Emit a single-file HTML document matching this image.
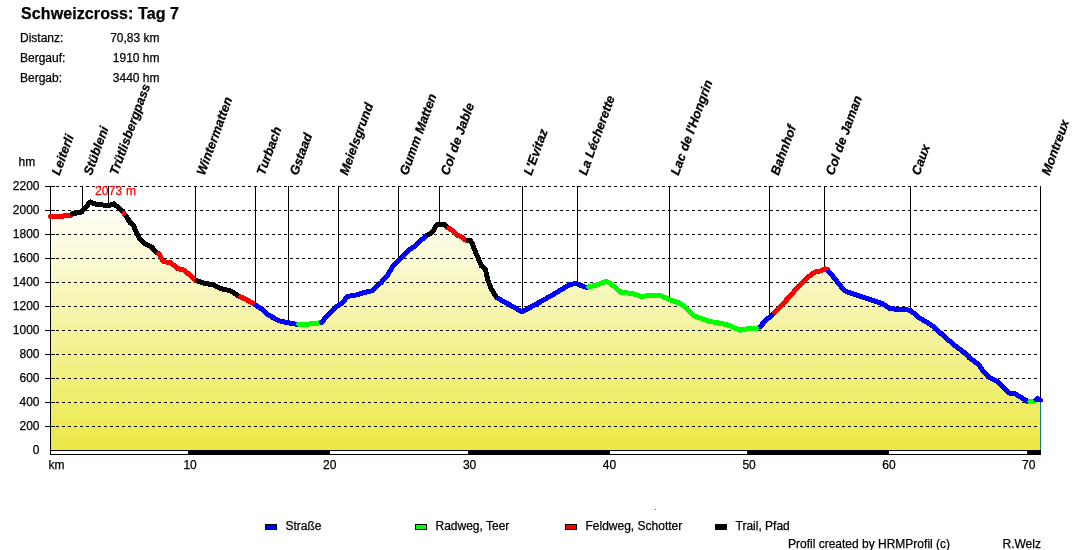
<!DOCTYPE html>
<html lang="de"><head><meta charset="utf-8"><title>Schweizcross: Tag 7</title>
<style>
html,body{margin:0;padding:0;background:#fff;}
body{width:1090px;height:550px;overflow:hidden;position:relative;font-family:"Liberation Sans",Arial,sans-serif;}
svg{position:absolute;left:0;top:0;display:block;}
text{font-family:"Liberation Sans",Arial,sans-serif;font-size:12px;fill:#000;stroke:#000;stroke-width:0.25px;}
.t{font-size:16px;font-weight:bold;}
.l{font-weight:bold;font-style:italic;font-size:12.85px;}
.e{text-anchor:end;}
.m{text-anchor:middle;}
</style></head><body>
<svg width="1090" height="550" viewBox="0 0 1090 550">
<defs><linearGradient id="g" gradientUnits="userSpaceOnUse" x1="0" y1="201" x2="0" y2="450">
<stop offset="0" stop-color="#ffffff"/><stop offset="1" stop-color="#ebe845"/></linearGradient></defs>
<text class="t" x="21" y="19" textLength="158">Schweizcross: Tag 7</text>
<text x="20" y="42">Distanz:</text><text class="e" x="159.5" y="42">70,83 km</text>
<text x="20" y="62">Bergauf:</text><text class="e" x="159.5" y="62">1910 hm</text>
<text x="20" y="82">Bergab:</text><text class="e" x="159.5" y="82">3440 hm</text>
<polygon shape-rendering="crispEdges" fill="url(#g)" points="50.5,450 50.5,216.6 60,216.4 71,215.2 72.35,213.94 72.5,213.8 81.7,212 85.4,207.4 90.4,201.9 96.4,204.6 104.6,205.1 108.8,206 113.8,203.7 123,211.5 124.08,213.39 124.2,213.6 125.4,215.2 126.57,216.46 126.7,216.6 129.9,222.5 133.1,224.8 136.4,232.4 140.5,239.9 146,244.3 151,246.5 157,252.6 158.81,254.02 159.8,254.8 163.1,261.4 171.3,263 177.4,268.5 184.5,270.2 195,280.1 197.17,280.86 205,283.6 212.5,284.5 221.5,288.8 230.4,290.8 238.6,295.9 240.68,296.89 246.8,299.8 254.5,304.2 256.41,305.49 263.4,310.2 267.8,314.6 278.8,320.7 288.7,322.9 296.4,324.2 298.7,324.17 309.7,324 319.6,322.9 321.31,322.36 321.5,322.3 331.9,310.7 338.5,305.2 343.5,301.9 347.3,296.4 355,295.3 363.9,292.6 371.6,290.9 381.5,282.1 388.1,274.4 393.3,265.5 398.3,261 407.9,250.6 415,246.2 420.5,240.7 426.5,235.6 428.51,234.47 430.6,233.3 433.8,229.7 437,224.6 443.9,224.2 447.1,226.9 448.97,228.24 453.5,231.5 458.1,235.6 462.7,237.5 465.5,240.2 467.8,240.2 470,240.2 472.3,243.4 474.6,249.9 477.2,256 481.5,266 485.4,269.3 487.6,279.2 490.9,288 496.4,297.4 498.41,298.53 522.2,311.9 553.1,294.6 569.6,284.7 575.6,283.5 586.6,287.6 588.82,287.0 597,284.8 605.8,281.5 610.2,283.2 621.2,292.5 628.9,293.1 634.5,294.2 641.1,296.4 649.9,295.6 660.9,295.6 669.7,299.7 680.7,303.5 687.3,309 693.8,315.8 709.2,321.3 726.8,324.6 740,330.1 748.9,328.5 758.8,327.9 760.78,326.46 761,326.3 764.3,321.3 769.8,316.9 773.1,313.6 774.73,311.97 784.1,302.6 790.7,295.5 795,290.2 806,278.7 814.8,272.1 820.3,271 824.7,268.8 827.2,269.6 828.67,271.37 835.7,279.8 844.5,290.8 856.7,295.2 872.1,300.1 883.1,304 889.7,308.4 900,309.7 909.9,310.1 919.8,318.2 927.5,322.6 934.1,327 944,336.3 955,345.7 966.1,353.9 969.2,357.7 979.1,364.9 982.4,370.4 989,377 997.8,381.9 1010,393.5 1014.4,393.5 1026.5,400.6 1027.6,401.4 1029.9,401.4 1034.2,401.4 1035.9,399.85 1037.5,398.4 1040.5,400.1 1040.5,450"/>
<g shape-rendering="crispEdges">
<rect x="1040" y="400" width="1" height="50" fill="#008080"/>
<path d="M50 186.5H1040" stroke="#000" stroke-width="1" stroke-dasharray="3 3" fill="none"/><rect x="45" y="186" width="10" height="1"/>
<path d="M50 210.5H1040" stroke="#000" stroke-width="1" stroke-dasharray="3 3" fill="none"/><rect x="45" y="210" width="10" height="1"/>
<path d="M50 234.5H1040" stroke="#000" stroke-width="1" stroke-dasharray="3 3" fill="none"/><rect x="45" y="234" width="10" height="1"/>
<path d="M50 258.5H1040" stroke="#000" stroke-width="1" stroke-dasharray="3 3" fill="none"/><rect x="45" y="258" width="10" height="1"/>
<path d="M50 282.5H1040" stroke="#000" stroke-width="1" stroke-dasharray="3 3" fill="none"/><rect x="45" y="282" width="10" height="1"/>
<path d="M50 306.5H1040" stroke="#000" stroke-width="1" stroke-dasharray="3 3" fill="none"/><rect x="45" y="306" width="10" height="1"/>
<path d="M50 330.5H1040" stroke="#000" stroke-width="1" stroke-dasharray="3 3" fill="none"/><rect x="45" y="330" width="10" height="1"/>
<path d="M50 354.5H1040" stroke="#000" stroke-width="1" stroke-dasharray="3 3" fill="none"/><rect x="45" y="354" width="10" height="1"/>
<path d="M50 378.5H1040" stroke="#000" stroke-width="1" stroke-dasharray="3 3" fill="none"/><rect x="45" y="378" width="10" height="1"/>
<path d="M50 402.5H1040" stroke="#000" stroke-width="1" stroke-dasharray="3 3" fill="none"/><rect x="45" y="402" width="10" height="1"/>
<path d="M50 426.5H1040" stroke="#000" stroke-width="1" stroke-dasharray="3 3" fill="none"/><rect x="45" y="426" width="10" height="1"/>
<rect x="50" y="186" width="1" height="265"/>
<rect x="82" y="186" width="1" height="25.0"/><rect x="108" y="186" width="1" height="19.9"/><rect x="195" y="186" width="1" height="94.3"/><rect x="255" y="186" width="1" height="118.9"/><rect x="288" y="186" width="1" height="136.9"/><rect x="338" y="186" width="1" height="119.2"/><rect x="398" y="186" width="1" height="74.8"/><rect x="439" y="186" width="1" height="38.5"/><rect x="522" y="186" width="1" height="125.7"/><rect x="577" y="186" width="1" height="98.2"/><rect x="669" y="186" width="1" height="113.6"/><rect x="769" y="186" width="1" height="131.1"/><rect x="824" y="186" width="1" height="82.9"/><rect x="910" y="186" width="1" height="124.6"/><rect x="1040" y="186" width="1" height="214.1"/>
<rect x="50" y="450" width="991" height="5" fill="#000"/><rect x="51" y="451" width="137" height="3" fill="#fff"/><rect x="330" y="451" width="138" height="3" fill="#fff"/><rect x="610" y="451" width="137" height="3" fill="#fff"/><rect x="889" y="451" width="138" height="3" fill="#fff"/>
</g>
<g shape-rendering="crispEdges" fill="none" stroke-width="5" stroke-linecap="round" stroke-linejoin="round">
<path d="M50.5 216.6 L60 216.4 L71 215.2 L72.35 213.94" stroke="#f00"/>
<path d="M72.35 213.94 L72.5 213.8 L81.7 212 L85.4 207.4 L90.4 201.9 L96.4 204.6 L104.6 205.1 L108.8 206 L113.8 203.7 L123 211.5 L124.08 213.39" stroke="#000"/>
<path d="M124.08 213.39 L124.2 213.6 L125.4 215.2 L126.57 216.46" stroke="#f00"/>
<path d="M126.57 216.46 L126.7 216.6 L129.9 222.5 L133.1 224.8 L136.4 232.4 L140.5 239.9 L146 244.3 L151 246.5 L157 252.6 L158.81 254.02" stroke="#000"/>
<path d="M158.81 254.02 L159.8 254.8 L163.1 261.4 L171.3 263 L177.4 268.5 L184.5 270.2 L195 280.1 L197.17 280.86" stroke="#f00"/>
<path d="M197.17 280.86 L205 283.6 L212.5 284.5 L221.5 288.8 L230.4 290.8 L238.6 295.9 L240.68 296.89" stroke="#000"/>
<path d="M240.68 296.89 L246.8 299.8 L254.5 304.2 L256.41 305.49" stroke="#f00"/>
<path d="M256.41 305.49 L263.4 310.2 L267.8 314.6 L278.8 320.7 L288.7 322.9 L296.4 324.2 L298.7 324.17" stroke="#00f"/>
<path d="M298.7 324.17 L309.7 324 L319.6 322.9 L321.31 322.36" stroke="#0f0"/>
<path d="M321.31 322.36 L321.5 322.3 L331.9 310.7 L338.5 305.2 L343.5 301.9 L347.3 296.4 L355 295.3 L363.9 292.6 L371.6 290.9 L381.5 282.1 L388.1 274.4 L393.3 265.5 L398.3 261 L407.9 250.6 L415 246.2 L420.5 240.7 L426.5 235.6 L428.51 234.47" stroke="#00f"/>
<path d="M428.51 234.47 L430.6 233.3 L433.8 229.7 L437 224.6 L443.9 224.2 L447.1 226.9 L448.97 228.24" stroke="#000"/>
<path d="M448.97 228.24 L453.5 231.5 L458.1 235.6 L462.7 237.5 L465.5 240.2 L467.8 240.2" stroke="#f00"/>
<path d="M467.8 240.2 L470 240.2 L472.3 243.4 L474.6 249.9 L477.2 256 L481.5 266 L485.4 269.3 L487.6 279.2 L490.9 288 L496.4 297.4 L498.41 298.53" stroke="#000"/>
<path d="M498.41 298.53 L522.2 311.9 L553.1 294.6 L569.6 284.7 L575.6 283.5 L586.6 287.6 L588.82 287.0" stroke="#00f"/>
<path d="M588.82 287.0 L597 284.8 L605.8 281.5 L610.2 283.2 L621.2 292.5 L628.9 293.1 L634.5 294.2 L641.1 296.4 L649.9 295.6 L660.9 295.6 L669.7 299.7 L680.7 303.5 L687.3 309 L693.8 315.8 L709.2 321.3 L726.8 324.6 L740 330.1 L748.9 328.5 L758.8 327.9 L760.78 326.46" stroke="#0f0"/>
<path d="M760.78 326.46 L761 326.3 L764.3 321.3 L769.8 316.9 L773.1 313.6 L774.73 311.97" stroke="#00f"/>
<path d="M774.73 311.97 L784.1 302.6 L790.7 295.5 L795 290.2 L806 278.7 L814.8 272.1 L820.3 271 L824.7 268.8 L827.2 269.6 L828.67 271.37" stroke="#f00"/>
<path d="M828.67 271.37 L835.7 279.8 L844.5 290.8 L856.7 295.2 L872.1 300.1 L883.1 304 L889.7 308.4 L900 309.7 L909.9 310.1 L919.8 318.2 L927.5 322.6 L934.1 327 L944 336.3 L955 345.7 L966.1 353.9 L969.2 357.7 L979.1 364.9 L982.4 370.4 L989 377 L997.8 381.9 L1010 393.5 L1014.4 393.5 L1026.5 400.6 L1027.6 401.4 L1029.9 401.4" stroke="#00f"/>
<path d="M1029.9 401.4 L1034.2 401.4 L1035.9 399.85" stroke="#0f0"/>
<path d="M1035.9 399.85 L1037.5 398.4 L1040.5 400.1" stroke="#00f"/>
</g>
<text x="95" y="194.8" textLength="41" style="fill:#f00;stroke:#f00">2073 m</text>
<text x="18.5" y="165.6">hm</text>
<text class="e" x="39.5" y="189.9">2200</text><text class="e" x="39.5" y="213.9">2000</text><text class="e" x="39.5" y="237.9">1800</text><text class="e" x="39.5" y="261.9">1600</text><text class="e" x="39.5" y="285.9">1400</text><text class="e" x="39.5" y="309.9">1200</text><text class="e" x="39.5" y="333.9">1000</text><text class="e" x="39.5" y="357.9">800</text><text class="e" x="39.5" y="381.9">600</text><text class="e" x="39.5" y="405.9">400</text><text class="e" x="39.5" y="429.9">200</text><text class="e" x="39.5" y="453.9">0</text>
<text x="48.5" y="468.8">km</text>
<text class="m" x="190.1" y="468.8">10</text><text class="m" x="329.8" y="468.8">20</text><text class="m" x="469.6" y="468.8">30</text><text class="m" x="609.4" y="468.8">40</text><text class="m" x="749.1" y="468.8">50</text><text class="m" x="888.9" y="468.8">60</text><text class="m" x="1028.7" y="468.8">70</text>
<text class="l" transform="translate(59.5 176) rotate(-70)">Leiterli</text>
<text class="l" transform="translate(91.5 176) rotate(-70)">Stübleni</text>
<text class="l" transform="translate(117.5 176) rotate(-70)">Trütlisbergpass</text>
<text class="l" transform="translate(204.5 176) rotate(-70)">Wintermatten</text>
<text class="l" transform="translate(264.5 176) rotate(-70)">Turbach</text>
<text class="l" transform="translate(297.5 176) rotate(-70)">Gstaad</text>
<text class="l" transform="translate(347.5 176) rotate(-70)">Meielsgrund</text>
<text class="l" transform="translate(407.5 176) rotate(-70)">Gumm Matten</text>
<text class="l" transform="translate(448.5 176) rotate(-70)">Col de Jable</text>
<text class="l" transform="translate(531.5 176) rotate(-70)">L'Evitaz</text>
<text class="l" transform="translate(586.5 176) rotate(-70)">La Lécherette</text>
<text class="l" transform="translate(678.5 176) rotate(-70)">Lac de l'Hongrin</text>
<text class="l" transform="translate(778.5 176) rotate(-70)">Bahnhof</text>
<text class="l" transform="translate(833.5 176) rotate(-70)">Col de Jaman</text>
<text class="l" transform="translate(919.5 176) rotate(-70)">Caux</text>
<text class="l" transform="translate(1049.5 176) rotate(-70)">Montreux</text>
<rect shape-rendering="crispEdges" x="265.5" y="524.5" width="11" height="5" fill="#00f" stroke="#000" stroke-width="1"/><text x="285.5" y="529.5">Straße</text>
<rect shape-rendering="crispEdges" x="415.5" y="524.5" width="11" height="5" fill="#0f0" stroke="#000" stroke-width="1"/><text x="435.5" y="529.5">Radweg, Teer</text>
<rect shape-rendering="crispEdges" x="565.5" y="524.5" width="11" height="5" fill="#f00" stroke="#000" stroke-width="1"/><text x="585.5" y="529.5">Feldweg, Schotter</text>
<rect shape-rendering="crispEdges" x="715.5" y="524.5" width="11" height="5" fill="#000" stroke="#000" stroke-width="1"/><text x="735.5" y="529.5">Trail, Pfad</text>
<rect x="655" y="509" width="1" height="1" fill="#5a5aa8" shape-rendering="crispEdges"/>
<text x="788" y="547.5">Profil created by HRMProfil (c)</text><text x="1002.5" y="547.5">R.Welz</text>
</svg>
</body></html>
